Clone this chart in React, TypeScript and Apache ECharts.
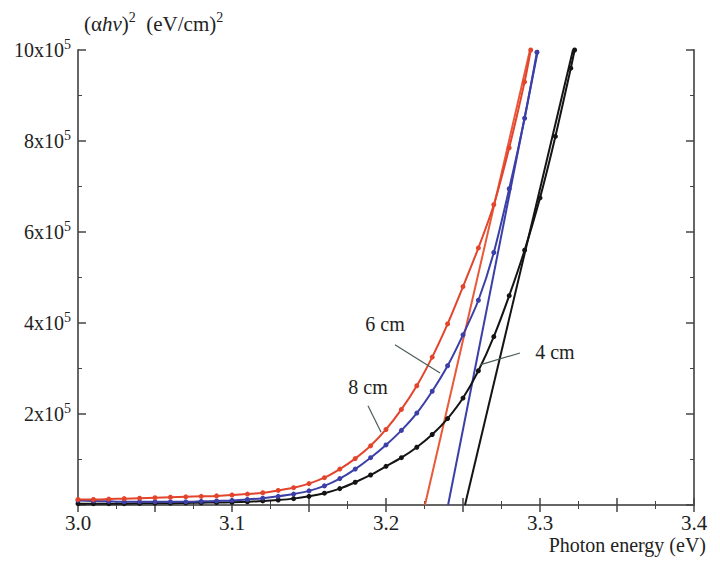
import React, { useEffect, useRef } from 'react';
import * as echarts from 'echarts';

// photon energy (eV), sampled every 0.01 eV
const energy = [
  3.0, 3.01, 3.02, 3.03, 3.04, 3.05, 3.06, 3.07, 3.08, 3.09,
  3.1, 3.11, 3.12, 3.13, 3.14, 3.15, 3.16, 3.17, 3.18, 3.19,
  3.2, 3.21, 3.22, 3.23, 3.24, 3.25, 3.26, 3.27, 3.28, 3.29,
  3.3, 3.31, 3.32,
];

// (alpha h nu)^2 in units of 1e5 (eV/cm)^2
const curve8cm = [
  0.12, 0.12, 0.13, 0.14, 0.15, 0.16, 0.17, 0.18, 0.19, 0.2,
  0.22, 0.24, 0.27, 0.32, 0.38, 0.47, 0.6, 0.79, 1.02, 1.3,
  1.66, 2.1, 2.62, 3.25, 3.98, 4.8, 5.65, 6.6, 7.85, 9.3,
];
const curve6cm = [
  0.1, 0.09, 0.08, 0.07, 0.07, 0.07, 0.07, 0.07, 0.08, 0.09,
  0.1, 0.12, 0.15, 0.19, 0.24, 0.31, 0.42, 0.58, 0.79, 1.04,
  1.32, 1.64, 2.02, 2.5, 3.06, 3.74, 4.5, 5.55, 6.95, 8.5,
];
const curve4cm = [
  0.03, 0.03, 0.03, 0.03, 0.035, 0.04, 0.04, 0.045, 0.05, 0.055,
  0.06, 0.07, 0.09, 0.11, 0.14, 0.19, 0.26, 0.36, 0.5, 0.66,
  0.85, 1.04, 1.27, 1.55, 1.9, 2.35, 2.95, 3.7, 4.6, 5.6,
  6.75, 8.1, 9.6,
];
// last measured point of each curve, at the top of the frame
const end8cm = [3.294, 10];
const end6cm = [3.298, 9.95];
const end4cm = [3.3225, 10];

// linear extrapolations to the energy axis
const fit8cm = [[3.2253, 0], [3.2935, 10]];
const fit6cm = [[3.2403, 0], [3.2987, 10]];
const fit4cm = [[3.2513, 0], [3.3214, 10]];

const yTicks = [2, 4, 6, 8, 10];

// annotation labels and their pointer lines
const notes = [
  { name: '6 cm', at: [3.1994, 3.98], from: [3.2058, 3.52], to: [3.2351, 2.9] },
  { name: '8 cm', at: [3.1883, 2.59], from: [3.1883, 2.18], to: [3.1968, 1.6] },
  { name: '4 cm', at: [3.3097, 3.36], from: [3.287, 3.34], to: [3.261, 3.08] },
];

const RED = '#e2452c';
const BLUE = '#3b3fa6';
const BLACK = '#141414';
const SERIF = '"Liberation Serif", "DejaVu Serif", serif';

const pairs = (ys: number[], end: number[]) =>
  ys.map((y, i) => [energy[i], y]).concat([end]);

const App: React.FC = () => {
  const chartRef = useRef<HTMLDivElement>(null);

  useEffect(() => {
    document.body.style.margin = '0';
    if (!chartRef.current) return;
    const chart = echarts.init(chartRef.current, null, { renderer: 'svg' });

    const axisLine = { show: true, lineStyle: { color: '#666', width: 2 } };
    const tick = (length: number) => ({
      inside: true,
      length,
      lineStyle: { color: '#444', width: 1.5 },
    });
    const minor = { show: true, splitNumber: 2, length: 4, lineStyle: { color: '#444' } };

    const curve = (name: string, color: string, data: number[][]) => ({
      name,
      type: 'line',
      data,
      smooth: 0.25,
      symbol: 'circle',
      symbolSize: 5,
      lineStyle: { color, width: 2 },
      itemStyle: { color },
      z: 3,
    });
    const fit = (color: string, data: number[][]) => ({
      type: 'line',
      data,
      symbol: 'none',
      lineStyle: { color, width: 2 },
      z: 2,
    });

    const option = {
      animation: false,
      grid: { left: 78, top: 50, right: 26, bottom: 60 },
      xAxis: [
        {
          type: 'value',
          min: 3.0,
          max: 3.4,
          interval: 0.05,
          axisLine,
          axisTick: tick(7),
          minorTick: minor,
          splitLine: { show: false },
          axisLabel: {
            color: '#222',
            fontFamily: SERIF,
            fontSize: 21,
            margin: 7,
            formatter: (v: number) =>
              Math.abs(v * 10 - Math.round(v * 10)) < 1e-6 ? v.toFixed(1) : '',
          },
        },
        {
          type: 'value',
          position: 'top',
          min: 3.0,
          max: 3.4,
          interval: 0.05,
          axisLine,
          axisTick: tick(7),
          minorTick: minor,
          splitLine: { show: false },
          axisLabel: { show: false },
        },
      ],
      yAxis: [
        {
          type: 'value',
          min: 0,
          max: 10,
          interval: 2,
          axisLine,
          axisTick: tick(8),
          minorTick: minor,
          splitLine: { show: false },
          axisLabel: {
            margin: 7,
            formatter: (v: number) => (yTicks.includes(v) ? `{a|${v}x10}{b|5}` : ''),
            rich: {
              a: { fontFamily: SERIF, fontSize: 20, color: '#222' },
              b: { fontFamily: SERIF, fontSize: 14, color: '#222', verticalAlign: 'top', padding: [0, 0, 12, 0] },
            },
          },
        },
        {
          type: 'value',
          position: 'right',
          min: 0,
          max: 10,
          interval: 2,
          axisLine,
          axisTick: tick(8),
          minorTick: minor,
          splitLine: { show: false },
          axisLabel: { show: false },
        },
      ],
      graphic: [
        {
          type: 'text',
          left: 84,
          top: 10,
          style: {
            text: '(α{i|hν}){s|2}  (eV/cm){s|2}',
            rich: {
              i: { fontFamily: SERIF, fontSize: 21, fontStyle: 'italic', fill: '#222' },
              s: { fontFamily: SERIF, fontSize: 14, fill: '#222', verticalAlign: 'top', padding: [0, 0, 14, 0] },
            },
            fontFamily: SERIF,
            fontSize: 21,
            fill: '#222',
          },
        },
        {
          type: 'text',
          right: 14,
          bottom: 10,
          style: {
            text: 'Photon energy (eV)',
            fontFamily: SERIF,
            fontSize: 20,
            fill: '#222',
          },
        },
      ],
      series: [
        fit(BLACK, fit4cm),
        fit('#e8583a', fit8cm),
        fit(BLUE, fit6cm),
        {
          ...curve('4 cm', BLACK, pairs(curve4cm, end4cm)),
          markLine: {
            silent: true,
            symbol: ['none', 'none'],
            label: { show: false },
            lineStyle: { color: '#4d5c58', width: 1.2, type: 'solid' },
            data: notes.map((n) => [{ coord: n.from }, { coord: n.to }]),
          },
          markPoint: {
            silent: true,
            symbol: 'circle',
            symbolSize: 1,
            itemStyle: { color: 'rgba(0,0,0,0)' },
            label: {
              show: true,
              position: 'inside',
              formatter: (p: { name: string }) => p.name,
              fontFamily: SERIF,
              fontSize: 20,
              color: '#222',
            },
            data: notes.map((n) => ({ name: n.name, coord: n.at })),
          },
        },
        curve('6 cm', BLUE, pairs(curve6cm, end6cm)),
        curve('8 cm', RED, pairs(curve8cm, end8cm)),
      ],
    };

    chart.setOption(option);
    return () => {
      chart.dispose();
    };
  }, []);

  return <div ref={chartRef} style={{ width: '720px', height: '565px' }} />;
};

export default App;
